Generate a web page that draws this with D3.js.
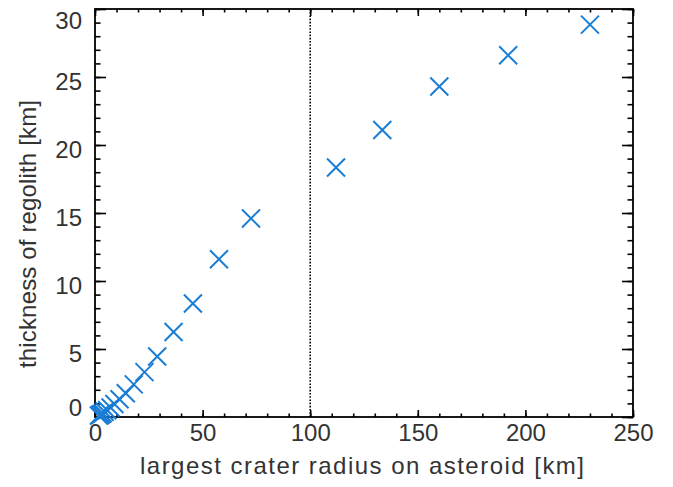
<!DOCTYPE html>
<html>
<head>
<meta charset="utf-8">
<script src="https://cdn.jsdelivr.net/npm/d3@7"></script>
<style>
  html, body { margin: 0; padding: 0; background: #fff; }
  text { font-family: "Liberation Sans", Arial, Helvetica, sans-serif; }
</style>
</head>
<body>
<svg id="chart" width="673" height="487"></svg>
<script>
// ---- data ----
const craterRadius = [230, 192, 160, 133.5, 112, 72.5, 57.6, 45.5, 36.5, 28.9, 23.0, 18.0, 14.3, 11.4, 9.0, 7.2, 5.7, 4.5, 3.6, 2.9, 2.3, 1.8];
const regolithThickness = [28.85, 26.6, 24.3, 21.1, 18.35, 14.6, 11.6, 8.35, 6.25, 4.45, 3.3, 2.4, 1.75, 1.3, 0.95, 0.7, 0.5, 0.38, 0.28, 0.2, 0.15, 0.1];
const xTicks = [0, 50, 100, 150, 200, 250];
const yTicks = [0, 5, 10, 15, 20, 25, 30];
const xMinorTicks = d3.range(0, 251, 10);
const yMinorTicks = d3.range(0, 31, 1);
const markerLine = 100;
const xTitle = "largest crater radius on asteroid [km]";
const yTitle = "thickness of regolith [km]";

// ---- layout ----
const L = 95, R = 633, T = 9, B = 417;
const svg = d3.select("#chart");
const x = d3.scaleLinear().domain([0, 250]).range([L, R]);
const y = d3.scaleLinear().domain([0, 30]).range([B, T]);

const ink = "#000";
const textCol = "#333";
const blue = "#1a7dd5";

function styleAxis(g) {
  g.select(".domain").remove();
  g.selectAll(".tick line").attr("stroke", ink).attr("stroke-width", 1.6);
  g.selectAll(".tick text").attr("fill", textCol).attr("font-size", 24)
    .attr("font-family", '"Liberation Sans", Arial, Helvetica, sans-serif');
}

// minor ticks (inward, all four sides)
svg.append("g").attr("transform", `translate(0,${B})`)
  .call(d3.axisBottom(x).tickValues(xMinorTicks).tickSize(-3.5).tickFormat(""))
  .call(styleAxis);
svg.append("g").attr("transform", `translate(0,${T})`)
  .call(d3.axisTop(x).tickValues(xMinorTicks).tickSize(-3.5).tickFormat(""))
  .call(styleAxis);
svg.append("g").attr("transform", `translate(${L},0)`)
  .call(d3.axisLeft(y).tickValues(yMinorTicks).tickSize(-5.5).tickFormat(""))
  .call(styleAxis);
svg.append("g").attr("transform", `translate(${R},0)`)
  .call(d3.axisRight(y).tickValues(yMinorTicks).tickSize(-5.5).tickFormat(""))
  .call(styleAxis);

// major ticks
const xb = svg.append("g").attr("transform", `translate(0,${B})`)
  .call(d3.axisBottom(x).tickValues(xTicks).tickSize(-7).tickPadding(0).tickFormat(d3.format("d")))
  .call(styleAxis);
xb.selectAll(".tick text").attr("y", 0).attr("dy", null)
  .attr("transform", "translate(0,24)");
svg.append("g").attr("transform", `translate(0,${T})`)
  .call(d3.axisTop(x).tickValues(xTicks).tickSize(-7).tickFormat(""))
  .call(styleAxis);
const yl = svg.append("g").attr("transform", `translate(${L},0)`)
  .call(d3.axisLeft(y).tickValues(yTicks).tickSize(-11).tickFormat(d3.format("d")))
  .call(styleAxis);
yl.selectAll(".tick text")
  .attr("x", -13)
  .attr("dy", "0.35em")
  .attr("transform", d => {
    const ty = y(d);
    const c = Math.min(Math.max(ty + 4, T + 11.5), B - 9.5);
    return `translate(0,${c - ty})`;
  });
svg.append("g").attr("transform", `translate(${R},0)`)
  .call(d3.axisRight(y).tickValues(yTicks).tickSize(-11).tickFormat(""))
  .call(styleAxis);

// frame
svg.append("rect").attr("x", L).attr("y", T).attr("width", R - L).attr("height", B - T)
  .attr("fill", "none").attr("stroke", ink).attr("stroke-width", 1.8);

// dotted vertical line
svg.append("line")
  .attr("x1", x(markerLine)).attr("x2", x(markerLine))
  .attr("y1", T).attr("y2", B)
  .attr("stroke", ink).attr("stroke-width", 1.6).attr("stroke-dasharray", "1.6,1.6");

// markers (X symbols)
const pts = craterRadius.map((r, i) => ({ r, t: regolithThickness[i] }));
const s = 9;
const mk = svg.append("g").attr("stroke", blue).attr("stroke-width", 2).attr("fill", "none");
mk.selectAll("path").data(pts).join("path")
  .attr("d", d => {
    const cx = x(d.r), cy = y(d.t);
    return `M${cx - s},${cy - s}L${cx + s},${cy + s}M${cx - s},${cy + s}L${cx + s},${cy - s}`;
  });

// titles
svg.append("text").attr("x", 362).attr("y", 474)
  .attr("text-anchor", "middle").attr("font-size", 24).attr("fill", textCol)
  .attr("textLength", 444).attr("lengthAdjust", "spacing")
  .text(xTitle);
svg.append("text")
  .attr("transform", `translate(36,234) rotate(-90)`)
  .attr("text-anchor", "middle").attr("font-size", 24).attr("fill", textCol)
  .attr("textLength", 268).attr("lengthAdjust", "spacing")
  .text(yTitle);
</script>
</body>
</html>
